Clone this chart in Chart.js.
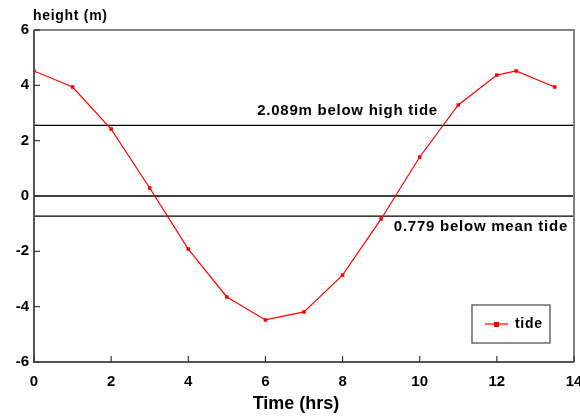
<!DOCTYPE html>
<html>
<head>
<meta charset="utf-8">
<script src="https://cdn.jsdelivr.net/npm/chart.js@4/dist/chart.umd.min.js"></script>
<style>
html,body{margin:0;padding:0;background:#fff;}
#wrap{width:580px;height:416px;}
</style>
</head>
<body>
<div id="wrap"><canvas id="c" width="580" height="416"></canvas></div>
<script>
const times = [0, 1, 2, 3, 4, 5, 6, 7, 8, 9, 10, 11, 12, 12.5, 13.5];
const heights = [4.52, 3.94, 2.42, 0.29, -1.92, -3.65, -4.48, -4.19, -2.86, -0.83, 1.41, 3.29, 4.37, 4.52, 3.94];
const refLevels = [2.55, 0, -0.73];
const refLabels = ["2.089m below high tide", "", "0.779 below mean tide"];
const xTicks = [0, 2, 4, 6, 8, 10, 12, 14];
const yTicks = [-6, -4, -2, 0, 2, 4, 6];
const seriesName = "tide";
const xTitle = "Time (hrs)";
const yTitle = "height (m)";

const FONT = "'Liberation Sans', Arial, sans-serif";

const refDatasets = refLevels.map((v, i) => ({
  label: 'ref' + i,
  data: [{x: 0, y: v}, {x: 14, y: v}],
  borderColor: '#000',
  borderWidth: 1.3,
  pointRadius: 0,
  showLine: true,
  order: 2
}));

const decor = {
  id: 'decor',
  afterDatasetsDraw(chart) {
    const ctx = chart.ctx;
    const a = chart.chartArea;
    const xs = chart.scales.x, ys = chart.scales.y;
    ctx.save();
    // frame
    ctx.lineWidth = 2;
    ctx.strokeStyle = '#808080';
    ctx.beginPath();
    ctx.moveTo(a.left, a.top); ctx.lineTo(a.right, a.top); ctx.lineTo(a.right, a.bottom);
    ctx.stroke();
    ctx.strokeStyle = '#555';
    ctx.beginPath();
    ctx.moveTo(a.left, a.top); ctx.lineTo(a.left, a.bottom); ctx.lineTo(a.right, a.bottom);
    ctx.stroke();
    // inward ticks
    ctx.lineWidth = 1.2;
    ctx.strokeStyle = '#333';
    yTicks.forEach(t => {
      const y = ys.getPixelForValue(t);
      ctx.beginPath(); ctx.moveTo(a.left, y); ctx.lineTo(a.left + 6, y); ctx.stroke();
    });
    xTicks.forEach(t => {
      const x = xs.getPixelForValue(t);
      ctx.beginPath(); ctx.moveTo(x, a.bottom); ctx.lineTo(x, a.bottom - 6); ctx.stroke();
    });
    // annotation texts
    ctx.fillStyle = '#000';
    ctx.font = 'bold 15px ' + FONT;
    ctx.letterSpacing = '0.75px';
    ctx.textBaseline = 'middle';
    ctx.textAlign = 'center';
    ctx.fillText(refLabels[0], xs.getPixelForValue(8.13), ys.getPixelForValue(refLevels[0]) - 15);
    ctx.textAlign = 'right';
    ctx.fillText(refLabels[2], a.right - 6, ys.getPixelForValue(refLevels[2]) + 11);
    // y title
    ctx.textAlign = 'left';
    ctx.font = 'bold 14px ' + FONT;
    ctx.letterSpacing = '0.7px';
    ctx.fillText(yTitle, 33, 16);
    // x title
    ctx.textAlign = 'center';
    ctx.font = 'bold 18px ' + FONT;
    ctx.letterSpacing = '0px';
    ctx.fillText(xTitle, 296, 404);
    // legend
    const lx = 472, ly = 305, lw = 78, lh = 38;
    ctx.lineWidth = 1.2;
    ctx.strokeStyle = '#444';
    ctx.fillStyle = '#fff';
    ctx.fillRect(lx, ly, lw, lh);
    ctx.strokeRect(lx, ly, lw, lh);
    ctx.strokeStyle = '#ff0000';
    ctx.lineWidth = 1.2;
    ctx.beginPath(); ctx.moveTo(lx + 13, ly + 19); ctx.lineTo(lx + 36, ly + 19); ctx.stroke();
    ctx.fillStyle = '#ff0000';
    ctx.fillRect(lx + 22, ly + 17, 5, 5);
    ctx.fillStyle = '#000';
    ctx.font = 'bold 14px ' + FONT;
    ctx.letterSpacing = '0.7px';
    ctx.textAlign = 'left';
    ctx.fillText(seriesName, lx + 43, ly + 19);
    ctx.restore();
  }
};

new Chart(document.getElementById('c'), {
  type: 'scatter',
  data: {
    datasets: [{
      label: seriesName,
      data: times.map((t, i) => ({x: t, y: heights[i]})),
      showLine: true,
      borderColor: '#ff0000',
      backgroundColor: '#ff0000',
      borderWidth: 1.2,
      pointStyle: 'rect',
      pointRadius: 2.5,
      pointBorderWidth: 0,
      order: 1
    }, ...refDatasets]
  },
  options: {
    responsive: false,
    animation: false,
    layout: {padding: {top: 30, right: 6, left: 0, bottom: 0}},
    plugins: {legend: {display: false}, tooltip: {enabled: false}, title: {display: false}},
    scales: {
      x: {
        type: 'linear', min: 0, max: 14,
        afterBuildTicks(s) { s.ticks = xTicks.map(v => ({value: v})); },
        afterFit(s) { s.height = 54; s.paddingRight = 0; s.paddingLeft = 0; },
        grid: {display: false, drawTicks: false},
        border: {display: false},
        ticks: {color: '#000', padding: 11, font: {family: FONT, weight: 'bold', size: 15}, maxRotation: 0}
      },
      y: {
        type: 'linear', min: -6, max: 6,
        afterBuildTicks(s) { s.ticks = yTicks.map(v => ({value: v})); },
        afterFit(s) { s.width = 34; s.paddingTop = 0; s.paddingBottom = 0; },
        grid: {display: false, drawTicks: false},
        border: {display: false},
        ticks: {color: '#000', padding: 5, font: {family: FONT, weight: 'bold', size: 15}}
      }
    }
  },
  plugins: [decor]
});
</script>
</body>
</html>
